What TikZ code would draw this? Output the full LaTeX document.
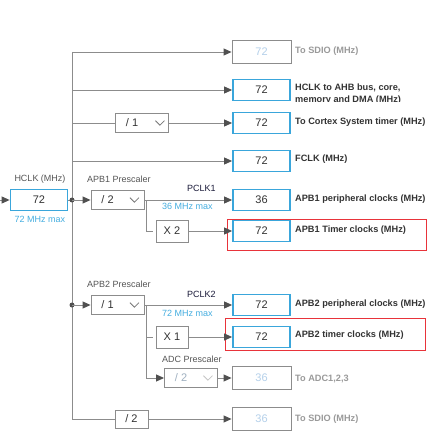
\documentclass[tikz,border=0pt]{standalone}
\usepackage{fontspec}
\setmainfont{Liberation Sans}
\usetikzlibrary{arrows.meta}
\definecolor{lnc}{HTML}{8C8C8C}
\definecolor{tipc}{HTML}{505050}
\definecolor{blc}{HTML}{3AA6DB}
\definecolor{txtc}{HTML}{333333}
\definecolor{lblc}{HTML}{555555}
\definecolor{maxc}{HTML}{45AEE0}
\definecolor{gtxtc}{HTML}{9A9A9A}
\definecolor{gvalc}{HTML}{B4D0EA}
\definecolor{rdc}{HTML}{E8333A}
\definecolor{pclkc}{HTML}{1B1B3A}
\definecolor{chevc}{HTML}{777777}
\begin{document}
\begin{tikzpicture}[x=1pt,y=-1pt,
 lnst/.style={draw=lnc,line width=0.9pt},
 arr/.style={lnst,-{Triangle[length=8pt,width=7pt,fill=tipc,color=tipc]}},
 valbox/.style={draw=blc,line width=1.8pt,minimum width=57pt,minimum height=21pt,inner sep=0pt,font=\fontsize{11}{11}\selectfont,text=txtc},
 grybox/.style={draw=lnc,line width=0.9pt,minimum width=59pt,minimum height=23pt,inner sep=0pt,font=\fontsize{11}{11}\selectfont,text=gvalc},
 ddbox/.style={draw=lnc,line width=0.9pt,minimum width=53pt,minimum height=19pt,inner sep=0pt},
 ddtxt/.style={inner sep=0pt,font=\fontsize{11}{11}\selectfont,text=txtc},
 mulbox/.style={draw=lnc,line width=0.9pt,minimum width=32pt,minimum height=22pt,inner sep=0pt,font=\fontsize{11}{11}\selectfont,text=txtc},
 outlbl/.style={anchor=west,inner sep=0pt,font=\bfseries\fontsize{9.2}{11}\selectfont,text=txtc},
 lbl/.style={inner sep=0pt,font=\fontsize{9}{11}\selectfont,text=lblc},
 maxl/.style={inner sep=0pt,font=\fontsize{9}{11}\selectfont,text=maxc},
 pcl/.style={anchor=west,inner sep=0pt,font=\fontsize{9}{11}\selectfont,text=pclkc},
 chev/.style={draw=chevc,line width=0.8pt},
 redbox/.style={draw=rdc,line width=0.9pt,inner sep=0pt}
]
\fill[white] (0,0) rectangle (444,446);
\useasboundingbox (0,0) rectangle (444,446);

% red highlight frames
\node[redbox,minimum width=199pt,minimum height=31pt] (r1) at (326.5,234.5) {};
\node[redbox,minimum width=200pt,minimum height=32pt] (r2) at (325,334) {};

% HCLK source
\node[valbox] (hclk) at (39,200) {72};
\node[lbl] (hclkl) at (40,179) {HCLK (MHz)};
\node[maxl] (hmax) at (40,219) {72 MHz max};
\coordinate (in) at (-6,200);
\draw[arr] (in) -- (hclk.west);

% bus
\coordinate (b0) at (72,52);
\coordinate (b1) at (72,90);
\coordinate (b2) at (72,123);
\coordinate (b3) at (72,161);
\coordinate (d1) at (72,200);
\coordinate (d2) at (72,305);
\coordinate (b9) at (72,419);
\draw[lnst] (b0) -- (b9);
\draw[lnst] (hclk.east) -- (d1);
\fill[tipc] (d1) circle (2.5);
\fill[tipc] (d2) circle (2.5);

% output boxes
\node[grybox] (sdio1) at (261.5,52) {72};
\node[valbox] (ahb) at (261.5,90) {72};
\node[valbox] (ctx) at (261.5,123) {72};
\node[valbox] (fclk) at (261.5,161) {72};
\node[valbox] (apb1p) at (261.5,200) {36};
\node[valbox] (apb1t) at (261.5,231) {72};
\node[valbox] (apb2p) at (261.5,305) {72};
\node[valbox] (apb2t) at (261.5,337) {72};
\node[grybox] (adc) at (261.5,378) {36};
\node[grybox] (sdio2) at (261.5,419) {36};

% output labels
\node[outlbl,text=gtxtc] (l0) at (295,51.5) {To SDIO (MHz)};
\begin{scope}
\clip (290,74) rectangle (440,101.5);
\node[outlbl] (l1a) at (295,87.5) {HCLK to AHB bus, core,};
\node[outlbl] (l1b) at (295,100) {memory and DMA (MHz)};
\end{scope}
\node[outlbl] (l2) at (295,122.5) {To Cortex System timer (MHz)};
\node[outlbl] (l3) at (295,159.5) {FCLK (MHz)};
\node[outlbl] (l4) at (295,199.5) {APB1 peripheral clocks (MHz)};
\node[outlbl] (l5) at (295,230.5) {APB1 Timer clocks (MHz)};
\node[outlbl] (l6) at (295,304.5) {APB2 peripheral clocks (MHz)};
\node[outlbl] (l7) at (295,335.5) {APB2 timer clocks (MHz)};
\node[outlbl,text=gtxtc] (l8) at (295,379) {To ADC1,2,3};
\node[outlbl,text=gtxtc] (l9) at (295,419) {To SDIO (MHz)};

% direct rows
\draw[arr] (b0) -- (sdio1.west);
\draw[arr] (b1) -- (ahb.west);
\draw[arr] (b3) -- (fclk.west);

% Cortex row with /1
\node[ddbox] (div1) at (142,123) {};
\node[ddtxt] (div1t) at ([xshift=17pt]div1.west) {/ 1};
\draw[chev] ([xshift=-9pt]div1.east) ++(-4.5,-2.3) -- ++(4.5,4.5) -- ++(4.5,-4.5);
\draw[lnst] (b2) -- (div1.west);
\draw[arr] (div1.east) -- (ctx.west);

% APB1
\node[lbl,anchor=west] (p1l) at (87,179) {APB1 Prescaler};
\node[ddbox] (pre1) at (117.5,200) {};
\node[ddtxt] (pre1t) at ([xshift=17pt]pre1.west) {/ 2};
\draw[chev] ([xshift=-10pt]pre1.east) ++(-4.5,-2.3) -- ++(4.5,4.5) -- ++(4.5,-4.5);
\draw[arr] (d1) -- (pre1.west);
\draw[arr] (pre1.east) -- (apb1p.west);
\node[pcl] (pc1) at (187,188) {PCLK1};
\node[maxl,anchor=west] (m1) at (162,206) {36 MHz max};
\coordinate (br1) at (146,200);
\coordinate (br1b) at (146,231);
\node[mulbox] (x2) at (172,231) {X 2};
\draw[lnst,shorten >=3pt] (br1) -- (br1b) -- (x2.west);
\draw[arr] (x2.east) -- (apb1t.west);

% APB2
\node[lbl,anchor=west] (p2l) at (87,284) {APB2 Prescaler};
\node[ddbox] (pre2) at (117.5,305) {};
\node[ddtxt] (pre2t) at ([xshift=17pt]pre2.west) {/ 1};
\draw[chev] ([xshift=-10pt]pre2.east) ++(-4.5,-2.3) -- ++(4.5,4.5) -- ++(4.5,-4.5);
\draw[arr] (d2) -- (pre2.west);
\draw[arr] (pre2.east) -- (apb2p.west);
\node[pcl] (pc2) at (187,294) {PCLK2};
\node[maxl,anchor=west] (m2) at (162,313) {72 MHz max};
\coordinate (br2) at (146,305);
\coordinate (br2m) at (146,337);
\coordinate (br2b) at (146,378);
\node[mulbox] (x1) at (172,337) {X 1};
\draw[lnst,shorten >=3pt] (br2m) -- (x1.west);
\draw[arr] (x1.east) -- (apb2t.west);
\node[lbl,anchor=west] (adcl) at (162,359) {ADC Prescaler};
\node[ddbox] (adcpre) at (191,378) {};
\node[ddtxt,text=gvalc!60!gray] (adcpret) at ([xshift=17pt]adcpre.west) {/ 2};
\draw[chev,draw=lnc!50] ([xshift=-10pt]adcpre.east) ++(-4.5,-2.3) -- ++(4.5,4.5) -- ++(4.5,-4.5);
\draw[arr] (br2) -- (br2b) -- (adcpre.west);
\draw[arr] (adcpre.east) -- (adc.west);

% bottom /2 to SDIO
\node[mulbox,minimum width=33pt,minimum height=18pt] (div2) at (131.5,419) {/ 2};
\draw[lnst] (b9) -- (div2.west);
\draw[arr] (div2.east) -- (sdio2.west);
\end{tikzpicture}
\end{document}
